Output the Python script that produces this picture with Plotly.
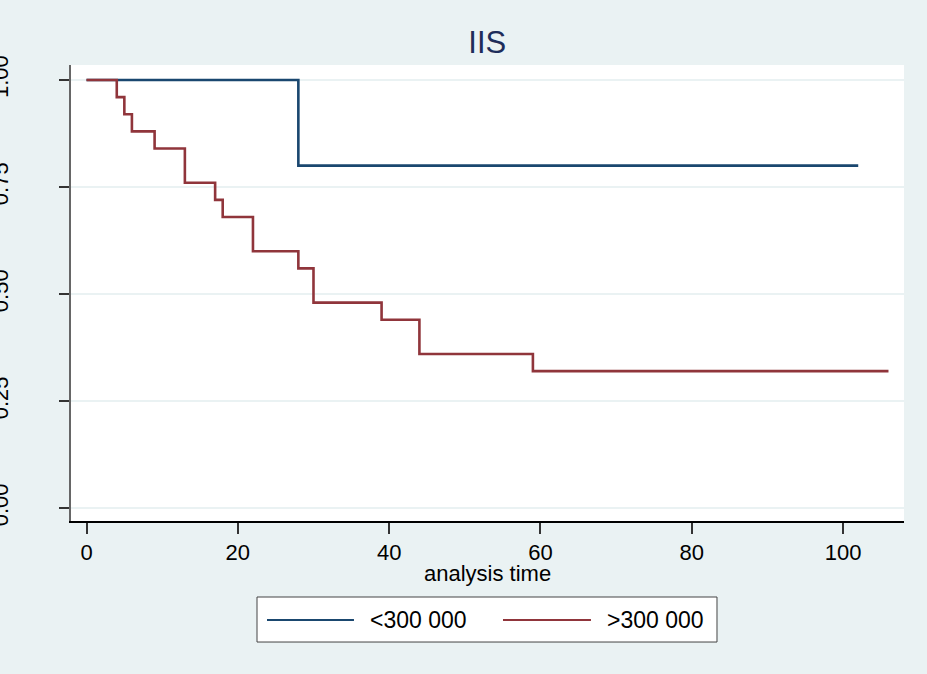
import plotly.graph_objects as go

# Kaplan-Meier survival estimates
low_time = [0, 28, 102]
low_surv = [1.00, 0.80, 0.80]

high_time = [0, 4, 5, 6, 9, 13, 17, 18, 22, 28, 30, 39, 44, 59, 106]
high_surv = [1.00, 0.96, 0.92, 0.88, 0.84, 0.76, 0.72, 0.68, 0.60, 0.56, 0.48, 0.44, 0.36, 0.32, 0.32]

series_names = ["<300 000", ">300 000"]
series_colors = ["#1a476f", "#90353b"]

x_ticks = [0, 20, 40, 60, 80, 100]
y_ticks = [0.0, 0.25, 0.5, 0.75, 1.0]
y_tick_labels = ["0.00", "0.25", "0.50", "0.75", "1.00"]

BG = "#eaf2f3"
FONT = "Liberation Sans, Arial, sans-serif"

fig = go.Figure()
for t, s, name, col in [(low_time, low_surv, series_names[0], series_colors[0]),
                        (high_time, high_surv, series_names[1], series_colors[1])]:
    fig.add_trace(go.Scatter(x=t, y=s, mode="lines", line=dict(shape="hv", color=col, width=2.6),
                             name=name, showlegend=False))

# Manual legend (Stata style box with long line samples)
fig.add_shape(type="rect", xref="paper", yref="paper", x0=0.2233, x1=0.7755, y0=-0.2654, y1=-0.1667,
              line=dict(color="#444444", width=1), fillcolor="white", layer="above")
ly = -0.2171
for (x0, x1, tx), name, col in zip([(0.2353, 0.3397, 0.3565), (0.5186, 0.6242, 0.6411)],
                                   series_names, series_colors):
    fig.add_shape(type="line", xref="paper", yref="paper", x0=x0, x1=x1, y0=ly, y1=ly,
                  line=dict(color=col, width=2.2), layer="above")
    fig.add_annotation(xref="paper", yref="paper", x=tx, y=ly, text=name, showarrow=False,
                       xanchor="left", yanchor="middle", font=dict(family=FONT, size=23, color="black"))

# x-axis title
fig.add_annotation(xref="paper", yref="paper", x=0.5, y=-0.1162, text="analysis time", showarrow=False,
                   xanchor="center", yanchor="middle", font=dict(family=FONT, size=22, color="black"))

fig.update_layout(
    width=927, height=674,
    paper_bgcolor=BG, plot_bgcolor="white",
    margin=dict(l=71, r=23, t=65, b=153, autoexpand=False),
    font=dict(family=FONT, size=22, color="black"),
    title=dict(text="IIS", x=0.5257, xanchor="center", y=0.937, yanchor="middle",
               font=dict(family=FONT, size=31, color="#1e2d5a")),
    showlegend=False,
)
fig.update_xaxes(range=[-2.05, 108.05], tickvals=x_ticks, ticks="outside", ticklen=11, tickwidth=1.5,
                 tickcolor="#333333", showline=True, linecolor="black", linewidth=1.5,
                 showgrid=False, zeroline=False, automargin=False,
                 tickfont=dict(size=22))
fig.update_yaxes(range=[-0.030, 1.035], tickvals=y_ticks, ticktext=y_tick_labels, ticks="outside",
                 ticklen=10, tickwidth=1.5, tickcolor="#333333", showline=True, linecolor="#666666",
                 linewidth=1.5, showgrid=True, gridcolor=BG, gridwidth=2, zeroline=False,
                 automargin=False, tickangle=-90, ticklabelstandoff=42, tickfont=dict(size=22))

fig.write_html("out.html", config={"displayModeBar": False},
               post_script="document.body.style.margin='0';")
